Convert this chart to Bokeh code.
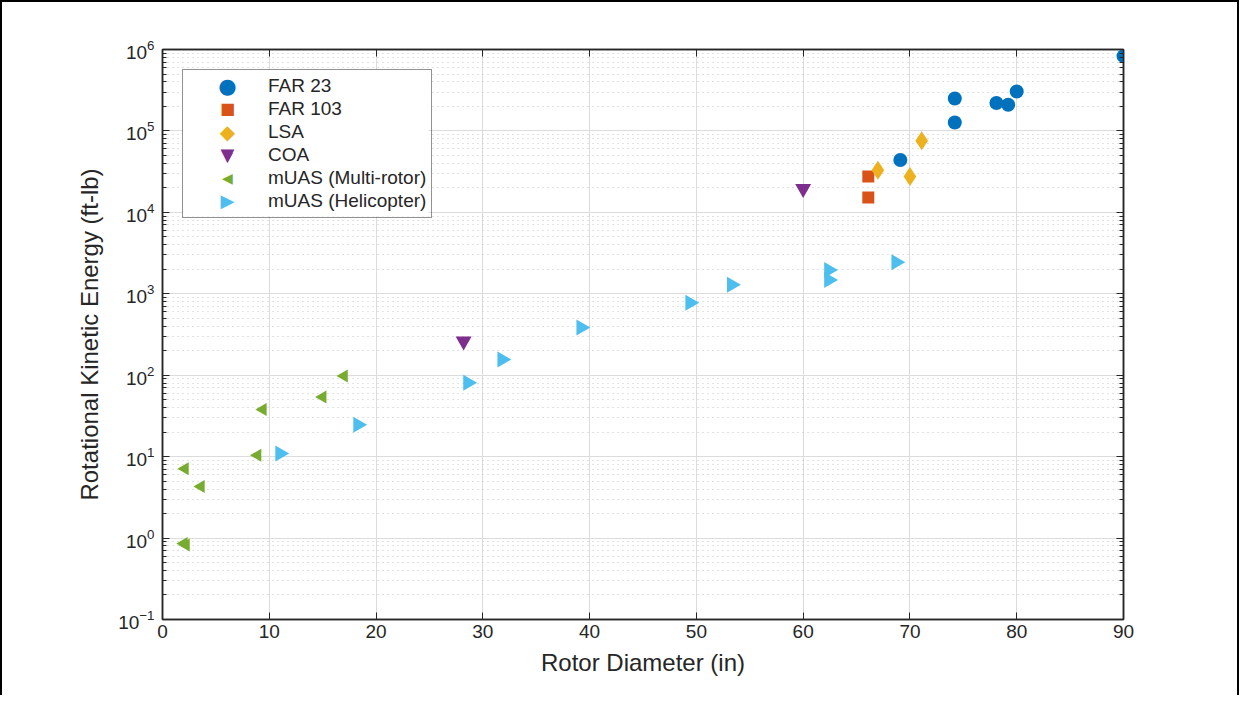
import math
from bokeh.plotting import figure
from bokeh.models import (Range1d, LogAxis, LinearAxis, SingleIntervalTicker,
                          LogTicker, Legend, LegendItem, CustomJSTickFormatter, Label,
                          BoxAnnotation)
from bokeh.embed import file_html
from bokeh.resources import INLINE

# ---- data (rotor diameter [in], rotational KE [ft-lb]) ----
far23_x = [90.0, 74.2, 74.2, 78.1, 79.2, 80.0, 69.1]
far23_y = [8.3e5, 2.5e5, 1.27e5, 2.2e5, 2.1e5, 3.05e5, 4.4e4]

far103_x = [66.1, 66.1]
far103_y = [2.76e4, 1.52e4]

lsa_x = [67.0, 70.0, 71.1]
lsa_y = [3.3e4, 2.76e4, 7.6e4]

coa_x = [60.0, 28.2]
coa_y = [1.95e4, 262]

multi_x = [17.0, 15.0, 9.4, 8.9, 2.1, 3.6, 2.0, 2.2]
multi_y = [98, 54, 38, 10.4, 7.1, 4.3, 0.86, 0.82]

heli_x = [11.0, 18.3, 28.6, 31.8, 39.2, 49.4, 53.3, 62.4, 62.4, 68.7]
heli_y = [10.9, 24.7, 81, 156, 386, 778, 1290, 1960, 1480, 2440]

labels = ["FAR 23", "FAR 103", "LSA", "COA", "mUAS (Multi-rotor)", "mUAS (Helicopter)"]
colors = ["#0072BD", "#D95319", "#EDB120", "#7E2F8E", "#77AC30", "#4DBEEE"]
symbols = ["\u25CF", "\u25A0", "\u25C6", "\u25BC", "\u25C0", "\u25B6"]
symbol_px = [21, 16, 20, 18, 14, 18]

FONT = "Liberation Sans"
AX = "#262626"

W, H = 1239, 695
BL, BR, BT, BB = 160, 118, 47, 78
p = figure(width=W, height=H, output_backend="svg", toolbar_location=None,
           x_range=Range1d(0, 90), y_range=Range1d(0.1, 1e6), y_axis_type="log",
           min_border_left=BL, min_border_right=BR, min_border_top=BT,
           min_border_bottom=BB)
p.styles = {"border-top": "2px solid black", "border-left": "2px solid black",
            "border-right": "2px solid black"}

p.outline_line_color = AX
p.outline_line_width = 1.5
p.background_fill_color = "white"

xt = SingleIntervalTicker(interval=10, num_minor_ticks=0)
yt = LogTicker(num_minor_ticks=10)

xa = p.xaxis[0]
xa.ticker = xt
ya = p.yaxis[0]
ya.ticker = yt

for a in (xa, ya):
    a.axis_line_color = AX
    a.axis_line_width = 1.5
    a.major_tick_line_color = AX
    a.minor_tick_line_color = AX
    a.major_tick_in = 7
    a.major_tick_out = 0
    a.minor_tick_in = 4
    a.minor_tick_out = 0
    a.major_label_text_font = FONT
    a.major_label_text_font_size = "19px"
    a.major_label_text_color = AX
    a.axis_label_text_font = FONT
    a.axis_label_text_font_size = "24px"
    a.axis_label_text_font_style = "normal"
    a.axis_label_text_color = AX

xa.axis_label = "Rotor Diameter (in)"
ya.axis_label = "Rotational Kinetic Energy (ft-lb)"
xa.major_label_standoff = 5
xa.axis_label_standoff = 8
ya.major_label_standoff = 8
ya.axis_label_standoff = 12

blank = CustomJSTickFormatter(code="return ''")

# mirrored axes (box on)
top = LinearAxis(ticker=xt, formatter=blank, axis_line_color=AX,
                 axis_line_width=1.5, major_tick_in=7, major_tick_out=0,
                 minor_tick_in=0, minor_tick_out=0, major_tick_line_color=AX,
                 major_label_standoff=0)
right = LogAxis(ticker=yt, formatter=blank, axis_line_color=AX,
                axis_line_width=1.5, major_tick_in=7, major_tick_out=0,
                minor_tick_in=4, minor_tick_out=0, major_tick_line_color=AX,
                minor_tick_line_color=AX, major_label_standoff=0)
p.add_layout(top, "above")
p.add_layout(right, "right")

p.xgrid.grid_line_color = "#dcdcdc"
p.xgrid.grid_line_width = 1
p.ygrid.grid_line_color = "#dcdcdc"
p.ygrid.grid_line_width = 1
p.ygrid.minor_grid_line_color = "#c4c4c4"
p.ygrid.minor_grid_line_dash = "1 4"
p.ygrid.minor_grid_line_width = 1

r1 = p.scatter(far23_x, far23_y, marker="circle", size=14, fill_color=colors[0], line_color=None)
r2 = p.scatter(far103_x, far103_y, marker="square", size=12, fill_color=colors[1], line_color=None)
r3 = p.scatter(lsa_x, lsa_y, marker="diamond", size=19, fill_color=colors[2], line_color=None)
r4 = p.scatter(coa_x, coa_y, marker="inverted_triangle", size=16, fill_color=colors[3], line_color=None)
r5 = p.scatter(multi_x, multi_y, marker="triangle", angle=math.pi / 2, size=13,
               fill_color=colors[4], line_color=None)
r6 = p.scatter(heli_x, heli_y, marker="triangle", angle=-math.pi / 2, size=16,
               fill_color=colors[5], line_color=None)

# invisible stand-ins for the sideways-triangle legend entries
# (Bokeh legends always draw markers un-rotated)
d5 = p.scatter([], [], marker="triangle", size=1, fill_alpha=0, line_alpha=0)
d6 = p.scatter([], [], marker="triangle", size=1, fill_alpha=0, line_alpha=0)

MARGIN, PAD, ITEM, SP, GW = 20, 5, 22, 1, 80
LEG_W = 246
LEG_H = 2 * PAD + 6 * ITEM + 5 * SP
frame_h = H - BT - BB

# white backing behind the (transparent) legend, under the data layer
p.add_layout(BoxAnnotation(left=MARGIN, right=MARGIN + LEG_W,
                           top=frame_h - MARGIN, bottom=frame_h - MARGIN - LEG_H,
                           left_units="screen", right_units="screen",
                           top_units="screen", bottom_units="screen",
                           fill_color="white", fill_alpha=1, line_color=None,
                           level="underlay"))

legend = Legend(items=[LegendItem(label=l, renderers=[r]) for l, r in
                       zip(labels, [r1, r2, r3, r4, d5, d6])],
                location="top_left", margin=MARGIN, padding=PAD, spacing=SP,
                label_text_font=FONT, label_text_font_size="19px",
                label_text_color=AX, border_line_color=AX, border_line_width=1.2,
                glyph_width=GW, glyph_height=ITEM, label_height=ITEM,
                label_standoff=0, background_fill_alpha=0)
p.add_layout(legend, "center")

# full-size legend symbols, centred on the legend glyph slots
for i, (sym, col, fs) in enumerate(zip(symbols, colors, symbol_px)):
    p.add_layout(Label(x=MARGIN + PAD + GW / 2,
                       y=frame_h - MARGIN - PAD - ITEM / 2 - (ITEM + SP) * i,
                       x_units="screen", y_units="screen", text=sym,
                       text_color=col, text_font_size=f"{fs}px",
                       text_font="DejaVu Sans", text_align="center",
                       text_baseline="middle", level="overlay"))

open("out.html", "w").write(file_html(p, INLINE))
